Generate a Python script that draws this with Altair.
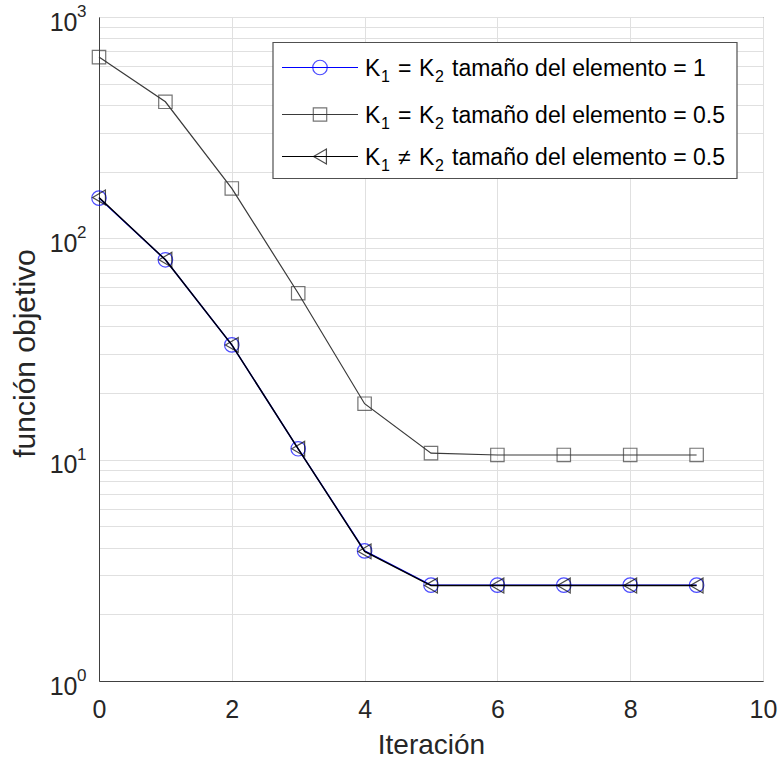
import altair as alt
import pandas as pd

iters = list(range(10))
f_circ = [152, 80, 33.0, 11.2, 3.87, 2.71, 2.71, 2.71, 2.71, 2.71]
f_sq = [659, 414, 168, 56.5, 17.9, 10.7, 10.5, 10.5, 10.5, 10.5]
f_tri = [153, 80, 33.0, 11.2, 3.85, 2.70, 2.70, 2.70, 2.70, 2.70]

names = [
    "K1 = K2 tamaño del elemento = 1",
    "K1 = K2 tamaño del elemento = 0.5",
    "K1 ≠ K2 tamaño del elemento = 0.5",
]
legend_parts = [
    ["K", "1", "=", "K", "2", "tamaño del elemento = 1"],
    ["K", "1", "=", "K", "2", "tamaño del elemento = 0.5"],
    ["K", "1", "\u2260", "K", "2", "tamaño del elemento = 0.5"],
]
colors = ["#0000ff", "#3a3a3a", "#000000"]
shapes = ["circle", "square", "triangle-left"]
sizes = [210, 180, 220]

y_exps = [0, 1, 2, 3]
x_ticks = [0, 2, 4, 6, 8, 10]

FONT = "Liberation Sans"
TXT = "#262626"
W = 664
H = 664

rows = []
for s, vals in zip(names, [f_circ, f_sq, f_tri]):
    for i, v in zip(iters, vals):
        rows.append({"serie": s, "iter": i, "f": v})
df = pd.DataFrame(rows)

yvals = []
for p in [1, 10, 100]:
    yvals += [k * p for k in range(1, 10)]
yvals.append(1000)

xscale = alt.Scale(domain=[0, 10], nice=False)
yscale = alt.Scale(type="log", domain=[1, 1000], nice=False)

xaxis = alt.Axis(
    values=x_ticks, title="Iteración", grid=True, gridColor="#e0e0e0",
    labelFontSize=25, labelFont=FONT, labelColor=TXT, labelPadding=16, ticks=False,
    titleFontSize=28, titleFont=FONT, titleColor=TXT, titleFontWeight="normal",
    titleX=W / 2, titleY=64, titleBaseline="middle", domainColor="#404040",
    labelFlush=False,
)
yaxis = alt.Axis(
    values=yvals, title="función objetivo", grid=True, gridColor="#e0e0e0",
    labelExpr="indexof([1,10,100,1000], datum.value) >= 0 ? '10' : ''",
    labelFontSize=25, labelFont=FONT, labelColor=TXT, labelPadding=22, ticks=False,
    labelBaseline="middle", labelOffset=5,
    titleFontSize=30, titleFont=FONT, titleColor=TXT, titleFontWeight="normal",
    titleX=-74, titleY=H / 2 + 4, titleAngle=270, titleBaseline="middle", titleAlign="center",
    domainColor="#404040", labelFlush=False,
)

X = alt.X("iter:Q", scale=xscale, axis=xaxis)
Y = alt.Y("f:Q", scale=yscale, axis=yaxis)

layers = []
for k, (s, c, sh, sz) in enumerate(zip(names, colors, shapes, sizes)):
    sub = df[df.serie == s]
    base = alt.Chart(sub)
    line = base.mark_line(color=c, strokeWidth=1.4 if k != 1 else 1.2).encode(x=X, y=Y)
    pts = base.mark_point(shape=sh, size=sz, filled=False, color=c, strokeWidth=1.2).encode(x=X, y=Y)
    layers += [line, pts]

# exponent superscripts of y tick labels
exp_df = pd.DataFrame({"f": [10 ** e for e in y_exps], "e": [str(e) for e in y_exps]})
layers.append(alt.Chart(exp_df).mark_text(
    align="left", baseline="middle", font=FONT, fontSize=17, color=TXT, dy=-5
).encode(x=alt.value(-22), y=Y, text="e:N"))

# legend (drawn as annotation)
box = alt.Chart(pd.DataFrame({"a": [0]})).mark_rect(
    fill="white", stroke="#505050", strokeWidth=1.2
).encode(x=alt.value(174), x2=alt.value(638), y=alt.value(25.5), y2=alt.value(161.5))
layers.append(box)
row_y = [50.5, 97.5, 139.5]
part_x = [266, 282, 299, 320, 336, 353]
part_dy = [0, 8, 0, 0, 8, 0]
part_fs = [23, 16, 23, 23, 16, 23]
for k in range(3):
    one = alt.Chart(pd.DataFrame({"serie": [names[k]]}))
    layers.append(one.mark_rule(color=colors[k], strokeWidth=1.2).encode(
        x=alt.value(183), x2=alt.value(259), y=alt.value(row_y[k])))
    layers.append(one.mark_point(shape=shapes[k], size=sizes[k], filled=False,
                                 color=colors[k], strokeWidth=1.2).encode(
        x=alt.value(221), y=alt.value(row_y[k])))
    for j, txt in enumerate(legend_parts[k]):
        layers.append(alt.Chart(pd.DataFrame({"t": [txt]})).mark_text(
            align="left", baseline="middle", font=FONT, fontSize=part_fs[j],
            color="#000000", dy=part_dy[j] + 1
        ).encode(x=alt.value(part_x[j]), y=alt.value(row_y[k]), text="t:N"))

chart = alt.layer(*layers).properties(
    width=W, height=H,
    autosize=alt.AutoSizeParams(type="none"),
    padding={"left": 99, "top": 17, "right": 17, "bottom": 80},
    background="white",
).configure_view(stroke="#404040", strokeWidth=1)

chart.save("out.html", embed_options={"renderer": "svg", "actions": False})
